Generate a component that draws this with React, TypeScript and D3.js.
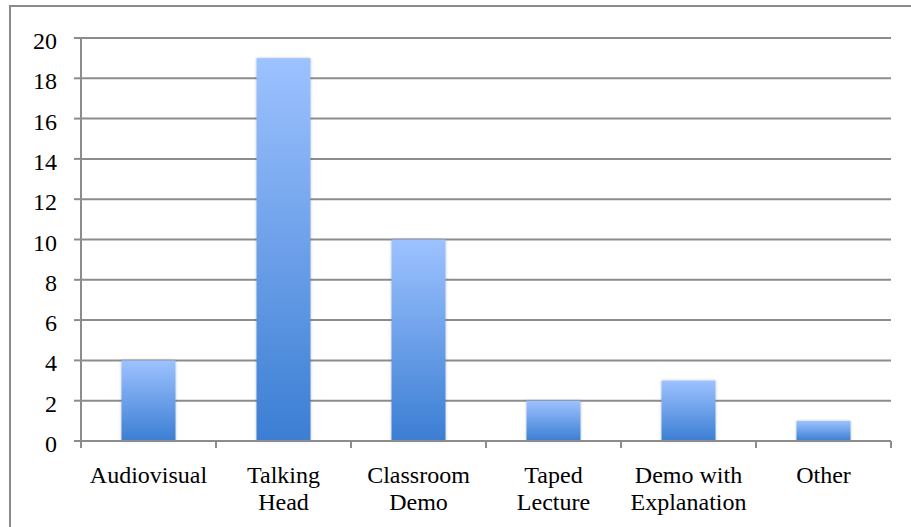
import React from "react";
import * as d3 from "d3";

const categories: string[][] = [
  ["Audiovisual"],
  ["Talking", "Head"],
  ["Classroom", "Demo"],
  ["Taped", "Lecture"],
  ["Demo with", "Explanation"],
  ["Other"],
];
const values: number[] = [4, 19, 10, 2, 3, 1];
const yTicks: number[] = [0, 2, 4, 6, 8, 10, 12, 14, 16, 18, 20];

export default function App() {
  const W = 911, H = 527;
  const left = 81, right = 891, top = 38, bottom = 441;
  const keys = categories.map((c) => c.join(" "));
  const x = d3.scaleBand<string>().domain(keys).range([left, right]).paddingInner(0.6).paddingOuter(0.3);
  const xOuter = d3.scaleBand<string>().domain(keys).range([left, right]);
  const y = d3.scaleLinear().domain([0, 20]).range([bottom, top]);
  const font = "Liberation Serif, DejaVu Serif, serif";
  const grid = "#8c8c8c";
  return (
    <svg width={W} height={H} style={{ position: "absolute", left: 0, top: 0, background: "#fff" }}>
      <defs>
        <linearGradient id="barGrad" x1="0" y1="0" x2="0" y2="1">
          <stop offset="0%" stopColor="#9dc2ff" />
          <stop offset="100%" stopColor="#3b7ed3" />
        </linearGradient>
        <filter id="shadow" x="-20%" y="-5%" width="140%" height="110%">
          <feGaussianBlur in="SourceAlpha" stdDeviation="1.5" />
          <feComponentTransfer><feFuncA type="linear" slope="0.25" /></feComponentTransfer>
          <feMerge><feMergeNode /><feMergeNode in="SourceGraphic" /></feMerge>
        </filter>
      </defs>
      <path d={`M10,${H} L10,6 L${W},6`} fill="none" stroke="#8a8a8a" strokeWidth={2} />
      {yTicks.map((t) => (
        <g key={t}>
          {t > 0 && <line x1={left} x2={right} y1={y(t)} y2={y(t)} stroke={grid} strokeWidth={2} />}
          <line x1={left - 7} x2={left} y1={y(t)} y2={y(t)} stroke={grid} strokeWidth={2} />
          <text x={57} y={y(t) + 11} textAnchor="end" style={{ fontFamily: font, fontSize: 24 }} fill="#000">{t}</text>
        </g>
      ))}
      {values.map((v, i) => (
        <rect key={keys[i]} x={x(keys[i])} y={y(v)} width={x.bandwidth()} height={y(0) - y(v)} fill="url(#barGrad)" filter="url(#shadow)" />
      ))}
      <line x1={left} x2={left} y1={top} y2={bottom + 7} stroke={grid} strokeWidth={2} />
      <line x1={left} x2={right} y1={bottom} y2={bottom} stroke={grid} strokeWidth={2} />
      {keys.map((k) => (
        <line key={k} x1={(xOuter(k) as number) + xOuter.bandwidth()} x2={(xOuter(k) as number) + xOuter.bandwidth()} y1={bottom} y2={bottom + 7} stroke={grid} strokeWidth={2} />
      ))}
      {categories.map((lines, i) => (
        <text key={keys[i]} x={(xOuter(keys[i]) as number) + xOuter.bandwidth() / 2} y={483} textAnchor="middle" style={{ fontFamily: font, fontSize: 24 }} fill="#000">
          {lines.map((l, j) => (
            <tspan key={j} x={(xOuter(keys[i]) as number) + xOuter.bandwidth() / 2} dy={j === 0 ? 0 : 27}>{l}</tspan>
          ))}
        </text>
      ))}
    </svg>
  );
}
